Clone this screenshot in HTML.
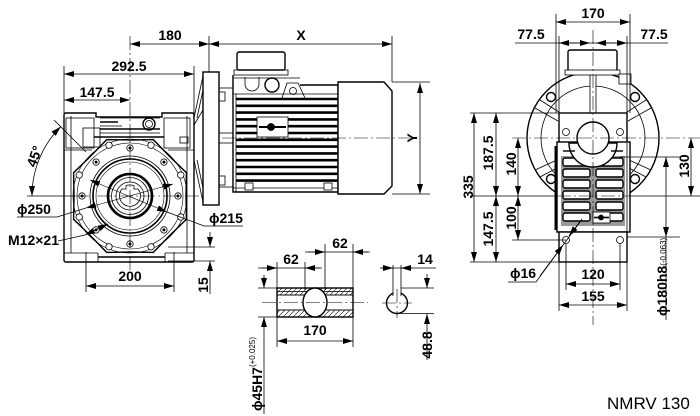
<!DOCTYPE html>
<html><head><meta charset="utf-8"><style>
html,body{margin:0;padding:0;background:#fff}
svg{display:block}
text{font-family:"Liberation Sans","DejaVu Sans",sans-serif;font-weight:bold;font-size:14px;fill:#000;stroke:none}
.c{stroke-dasharray:14 3 2 3;stroke-width:0.6}
.d{marker-start:url(#a);marker-end:url(#a)}
.e{marker-end:url(#a)}
.t{stroke-width:0.6}
.k{stroke-width:1.4}
</style></head><body>
<svg width="700" height="416" viewBox="0 0 700 416" xmlns="http://www.w3.org/2000/svg">
<defs>
<marker id="a" viewBox="0 0 10 6" refX="10" refY="3" markerWidth="10" markerHeight="6" markerUnits="userSpaceOnUse" orient="auto-start-reverse"><path d="M0,0L10,3L0,6z" fill="#000" stroke="none"/></marker>
<pattern id="h" width="5" height="5" patternUnits="userSpaceOnUse"><path d="M0,5L5,0" stroke="#000" stroke-width="0.6"/></pattern>
</defs>
<rect width="700" height="416" fill="#fff"/>
<g fill="none" stroke="#000" stroke-width="0.8">

<!-- ================= LEFT VIEW ================= -->
<path d="M66,113 H96 V117 H162 V113 H192 Q194,113 194,115 V260 Q194,262 192,262 H66 Q64,262 64,260 V115 Q64,113 66,113 Z" class="k"/>
<line x1="71" y1="116" x2="71" y2="253"/>
<line x1="187" y1="116" x2="187" y2="253"/>
<rect x="66" y="118" width="28" height="30"/>
<rect x="83" y="128" width="17" height="19"/>
<rect x="164" y="118" width="26" height="30"/>
<rect x="180" y="137" width="8" height="6"/>
<line x1="100" y1="118" x2="160" y2="118"/>
<line x1="100" y1="122" x2="118" y2="122" stroke-width="1.6"/>
<line x1="100" y1="126" x2="122" y2="126"/>
<line x1="100" y1="129" x2="160" y2="129" stroke-width="1.6"/>
<line x1="100" y1="133" x2="160" y2="133"/>
<line x1="94" y1="137" x2="164" y2="137" stroke-width="1.4"/>
<circle cx="149" cy="124" r="6" class="k"/>
<circle cx="149" cy="124" r="3.5"/>
<line x1="64" y1="150" x2="92" y2="150"/>
<line x1="168" y1="150" x2="194" y2="150"/>
<line x1="64" y1="253" x2="98" y2="253"/>
<line x1="98" y1="253" x2="98" y2="262"/>
<line x1="165" y1="253" x2="194" y2="253"/>
<line x1="165" y1="253" x2="165" y2="262"/>
<line x1="98" y1="257" x2="165" y2="257" stroke-width="1.4"/>

<!-- flange -->
<polygon fill="#fff" class="k" points="186,196 186.4,219.3 169.6,235.6 153.3,252.4 130,252 106.7,252.4 90.4,235.6 73.6,219.3 74,196 73.6,172.7 90.4,156.4 106.7,139.6 130,140 153.3,139.6 169.6,156.4 186.4,172.7"/>
<circle cx="130" cy="196" r="57" class="t"/>
<circle cx="130" cy="196" r="53" class="t"/>
<circle cx="130" cy="196" r="40"/>
<circle cx="130" cy="196" r="37" stroke-width="1.6"/>
<circle cx="130" cy="196" r="34" class="t"/>
<circle cx="130" cy="196" r="22" stroke-width="2.6"/>
<circle cx="130" cy="196" r="18.5"/>
<circle cx="130" cy="196" r="14"/>
<path d="M122,189 A10.5,10.5 0 1 0 138,189 L134,189 L134,185.7 A10.5,10.5 0 0 0 126,185.7 L126,189 Z"/>
<g fill="#fff">
<circle cx="178" cy="196" r="3.2"/><circle cx="163.9" cy="229.9" r="3.2"/><circle cx="130" cy="244" r="3.2"/><circle cx="96.1" cy="229.9" r="3.2"/>
<circle cx="82" cy="196" r="3.2"/><circle cx="96.1" cy="162.1" r="3.2"/><circle cx="130" cy="148" r="3.2"/><circle cx="163.9" cy="162.1" r="3.2"/>
<circle cx="180.8" cy="217" r="3.2"/><circle cx="151" cy="246.8" r="3.2"/><circle cx="109" cy="246.8" r="3.2"/><circle cx="79.2" cy="217" r="3.2"/>
<circle cx="79.2" cy="175" r="3.2"/><circle cx="109" cy="145.2" r="3.2"/><circle cx="151" cy="145.2" r="3.2"/><circle cx="180.8" cy="175" r="3.2"/>
</g>
<g fill="#000" stroke="none">
<circle cx="178" cy="196" r="1.5"/><circle cx="163.9" cy="229.9" r="1.5"/><circle cx="130" cy="244" r="1.5"/><circle cx="96.1" cy="229.9" r="1.5"/>
<circle cx="82" cy="196" r="1.5"/><circle cx="96.1" cy="162.1" r="1.5"/><circle cx="130" cy="148" r="1.5"/><circle cx="163.9" cy="162.1" r="1.5"/>
</g>
<line class="c" x1="130" y1="36" x2="130" y2="272"/>
<line class="c" x1="75" y1="196" x2="200" y2="196"/>
<line x1="27" y1="196" x2="75" y2="196"/>
<line class="d t" x1="86" y1="208" x2="173" y2="184"/>
<line class="d t" x1="90" y1="180" x2="167" y2="212"/>
<polyline points="17,217 57,217 86,208"/>
<polyline points="243,226 204,226 167,212"/>
<line x1="58" y1="241" x2="85" y2="235"/>
<line class="d" x1="85" y1="235" x2="108" y2="224"/>
<text x="17" y="214">ϕ250</text>
<text x="209" y="223">ϕ215</text>
<text x="8" y="245">M12×21</text>
<path class="d" d="M60.7,126.7 A98,98 0 0 0 32,196"/>
<line x1="54" y1="120" x2="86" y2="152"/>
<text transform="translate(39,158) rotate(-70)" text-anchor="middle">45°</text>
<line class="d" x1="130" y1="44" x2="209" y2="44"/>
<text x="170" y="40" text-anchor="middle">180</text>
<line class="d" x1="209" y1="44" x2="392" y2="44"/>
<text x="301" y="40" text-anchor="middle">X</text>
<line x1="209" y1="36" x2="209" y2="72"/>
<line x1="392" y1="36" x2="392" y2="82"/>
<line class="d" x1="64" y1="74" x2="194" y2="74"/>
<text x="129" y="71" text-anchor="middle">292.5</text>
<line class="d" x1="64" y1="100" x2="130" y2="100"/>
<text x="97" y="97" text-anchor="middle">147.5</text>
<line x1="64" y1="66" x2="64" y2="113"/>
<line x1="194" y1="66" x2="194" y2="113"/>
<line class="d" x1="86" y1="286" x2="174" y2="286"/>
<text x="130" y="281" text-anchor="middle">200</text>
<line x1="86" y1="252" x2="86" y2="292"/>
<line x1="174" y1="252" x2="174" y2="292"/>
<line class="e" x1="210" y1="232" x2="210" y2="247"/>
<line class="e" x1="210" y1="294" x2="210" y2="261"/>
<line x1="168" y1="247" x2="215" y2="247"/>
<line x1="168" y1="261" x2="215" y2="261"/>
<text transform="translate(208,285) rotate(-90)" text-anchor="middle">15</text>

<!-- ================= MOTOR SIDE ================= -->
<line x1="194" y1="118" x2="203" y2="76"/>
<line x1="197" y1="118" x2="206" y2="76"/>
<line x1="194" y1="160" x2="203" y2="202"/>
<line x1="197" y1="160" x2="206" y2="202"/>
<line x1="194" y1="125" x2="203" y2="110"/>
<rect x="203" y="72" width="16" height="133" fill="#fff" class="k"/>
<rect x="219" y="88" width="14" height="99"/>
<rect x="219" y="92" width="6" height="9"/>
<rect x="219" y="176" width="6" height="9"/>
<line x1="219" y1="133" x2="233" y2="133"/>
<line x1="219" y1="143" x2="233" y2="143"/>
<rect x="237" y="52" width="48" height="18" rx="2" class="k"/>
<rect x="234" y="70" width="54" height="5"/>
<path class="k" d="M233,75 L233,192 L338,192 L338,85 L300,85"/>
<line x1="233" y1="78" x2="300" y2="78"/>
<path d="M245,77 L245,84 A7,7 0 0 0 259,84 L259,77"/>
<circle cx="272" cy="85" r="7" class="k"/>
<path d="M282,98 L287,83 L298,83 L305,98"/>
<circle cx="293" cy="91" r="3.5"/>
<line x1="233" y1="94" x2="338" y2="94"/>
<line x1="236" y1="94" x2="236" y2="192"/>
<g stroke-width="2.6">
<line x1="236" y1="99" x2="338" y2="99"/><line x1="236" y1="105.8" x2="338" y2="105.8"/><line x1="236" y1="112.6" x2="338" y2="112.6"/>
<line x1="236" y1="119.4" x2="338" y2="119.4"/><line x1="236" y1="126.2" x2="338" y2="126.2"/><line x1="236" y1="133" x2="338" y2="133"/>
<line x1="236" y1="139.8" x2="338" y2="139.8"/><line x1="236" y1="146.6" x2="338" y2="146.6"/><line x1="236" y1="153.4" x2="338" y2="153.4"/>
<line x1="236" y1="160.2" x2="338" y2="160.2"/><line x1="236" y1="167" x2="338" y2="167"/><line x1="236" y1="173.8" x2="338" y2="173.8"/>
<line x1="236" y1="180.6" x2="338" y2="180.6"/>
</g>
<rect x="257" y="117" width="31" height="20" fill="#fff"/>
<line x1="259" y1="127" x2="286" y2="127" stroke-width="2"/>
<circle cx="271" cy="127" r="3.5" fill="#000"/>
<line x1="233" y1="188" x2="338" y2="188"/>
<rect x="245" y="183" width="8" height="7" fill="#fff"/>
<rect x="324" y="183" width="8" height="7" fill="#fff"/>
<path class="k" d="M338,82 L384,82 L392,91 L392,186 L384,194 L338,194 Z" fill="#fff"/>
<line class="c" x1="222" y1="138" x2="410" y2="138"/>
<line class="d" x1="420" y1="83" x2="420" y2="194"/>
<line x1="392" y1="82" x2="430" y2="82"/>
<line x1="392" y1="194" x2="430" y2="194"/>
<text transform="translate(417,138) rotate(-90)" text-anchor="middle">Y</text>

<!-- ================= SHAFT ================= -->
<rect x="277" y="288" width="76" height="7" fill="url(#h)"/>
<rect x="277" y="310" width="76" height="7" fill="url(#h)"/>
<rect x="277" y="288" width="76" height="29" class="k"/>
<line x1="277" y1="291.5" x2="353" y2="291.5"/>
<line x1="277" y1="295" x2="353" y2="295"/>
<line x1="277" y1="310" x2="353" y2="310"/>
<ellipse cx="315" cy="302.5" rx="12" ry="14.5" fill="#fff" class="k"/>
<line class="c" x1="262" y1="302.5" x2="368" y2="302.5"/>
<line x1="258" y1="268" x2="322" y2="268"/>
<line class="e" x1="262" y1="268" x2="277" y2="268"/>
<line class="e" x1="320" y1="268" x2="305" y2="268"/>
<text x="291" y="264" text-anchor="middle">62</text>
<line x1="305" y1="252" x2="370" y2="252"/>
<line class="e" x1="308" y1="252" x2="325" y2="252"/>
<line class="e" x1="368" y1="252" x2="353" y2="252"/>
<text x="340" y="248" text-anchor="middle">62</text>
<line x1="277" y1="262" x2="277" y2="347"/>
<line x1="353" y1="244" x2="353" y2="347"/>
<line x1="305" y1="262" x2="305" y2="290"/>
<line x1="325" y1="244" x2="325" y2="290"/>
<line class="d" x1="277" y1="341" x2="353" y2="341"/>
<text x="315" y="335" text-anchor="middle">170</text>
<line class="e" x1="264" y1="275" x2="264" y2="288"/>
<line class="e" x1="264" y1="414" x2="264" y2="317"/>
<line x1="258" y1="288" x2="277" y2="288"/>
<line x1="258" y1="317" x2="277" y2="317"/>
<text transform="translate(262,411) rotate(-90)">ϕ45H7<tspan font-size="8" font-weight="normal" dy="-7">(+0.025)</tspan></text>
<circle cx="397" cy="303" r="10.5" class="k"/>
<rect x="393.5" y="290" width="7" height="5" fill="#fff" stroke="none"/>
<line x1="393" y1="265" x2="393" y2="296"/>
<line x1="401" y1="265" x2="401" y2="296"/>
<line class="c" x1="382" y1="303" x2="412" y2="303"/>
<line class="c" x1="397" y1="289" x2="397" y2="318"/>
<line x1="380" y1="268" x2="436" y2="268"/>
<line class="e" x1="381" y1="268" x2="393" y2="268"/>
<line class="e" x1="413" y1="268" x2="401" y2="268"/>
<text x="425" y="264" text-anchor="middle">14</text>
<line class="e" x1="427" y1="274" x2="427" y2="288"/>
<line class="e" x1="427" y1="360" x2="427" y2="314"/>
<line x1="401" y1="288" x2="434" y2="288"/>
<line x1="397" y1="313.5" x2="434" y2="313.5"/>
<text transform="translate(432,345) rotate(-90)" text-anchor="middle">48.8</text>

<!-- ================= RIGHT VIEW ================= -->
<circle cx="593" cy="138" r="66" class="k"/>
<circle cx="593" cy="138" r="52"/>
<circle cx="551" cy="97" r="4.5" fill="#fff" class="k"/>
<circle cx="635" cy="97" r="4.5" fill="#fff" class="k"/>
<circle cx="551" cy="179" r="4.5" fill="#fff" class="k"/>
<circle cx="635" cy="179" r="4.5" fill="#fff" class="k"/>
<line x1="535" y1="108" x2="558" y2="121"/><line x1="540" y1="100" x2="559" y2="112"/>
<line x1="651" y1="108" x2="628" y2="121"/><line x1="646" y1="100" x2="627" y2="112"/>
<line x1="535" y1="170" x2="557" y2="160"/><line x1="540" y1="177" x2="557" y2="168"/>
<line x1="651" y1="170" x2="629" y2="160"/><line x1="646" y1="177" x2="629" y2="168"/>
<rect x="590" y="72" width="6" height="41" fill="#fff"/>
<rect x="568" y="50" width="49" height="21" rx="2" class="k"/>
<rect x="565" y="70" width="55" height="5" fill="#fff"/>
<rect x="619" y="74" width="12" height="10" fill="#fff"/>
<rect x="559" y="113" width="68" height="30" fill="#fff" class="k"/>
<rect x="557" y="142" width="73" height="90" fill="#fff" class="k"/>
<rect x="554.5" y="146" width="3" height="84" fill="#000" stroke="none"/>
<rect x="561" y="156" width="64" height="70" fill="#9a9a9a" stroke="none"/>
<line x1="627" y1="143" x2="627" y2="232"/>
<g stroke-width="1.4" fill="#fff">
<rect x="563" y="158" width="27" height="8" rx="2"/><rect x="596" y="158" width="27" height="8" rx="2"/>
<rect x="563" y="169" width="27" height="8" rx="2"/><rect x="596" y="169" width="27" height="8" rx="2"/>
<rect x="563" y="180" width="27" height="8" rx="2"/><rect x="596" y="180" width="27" height="8" rx="2"/>
<rect x="563" y="191" width="27" height="8" rx="2"/><rect x="596" y="191" width="27" height="8" rx="2"/>
<rect x="563" y="202" width="27" height="8" rx="2"/><rect x="596" y="202" width="27" height="8" rx="2"/>
<rect x="563" y="213" width="27" height="8" rx="2"/><rect x="596" y="213" width="27" height="8" rx="2"/>
</g>
<path d="M569,143 A24,24 0 0 0 617,143 Z" fill="#fff" class="k"/>
<circle cx="593" cy="138" r="16" fill="#fff" class="k"/>
<line x1="563" y1="151" x2="575" y2="151" stroke-width="1.4"/>
<line x1="611" y1="151" x2="623" y2="151" stroke-width="1.4"/>
<circle cx="566" cy="132" r="3.5"/>
<circle cx="620" cy="132" r="3.5"/>
<rect x="593" y="212" width="17" height="11" fill="#fff"/>
<line x1="594" y1="217.5" x2="609" y2="217.5" stroke-width="1.6"/>
<circle cx="601" cy="217.5" r="2.5" fill="#000"/>
<rect x="559" y="232" width="68" height="30" fill="#fff" class="k"/>
<circle cx="566" cy="240" r="3.5"/>
<circle cx="620" cy="240" r="3.5"/>
<line class="c" x1="593" y1="30" x2="593" y2="325"/>
<line class="c" x1="512" y1="138" x2="700" y2="138"/>
<line class="d" x1="556" y1="22" x2="630" y2="22"/>
<text x="593" y="18" text-anchor="middle">170</text>
<line x1="556" y1="14" x2="556" y2="113"/>
<line x1="630" y1="14" x2="630" y2="113"/>
<line x1="559" y1="36" x2="559" y2="113"/>
<line x1="627" y1="36" x2="627" y2="113"/>
<line x1="515" y1="43" x2="668" y2="43"/>
<line class="d" x1="559" y1="43" x2="590" y2="43"/>
<line class="d" x1="596" y1="43" x2="627" y2="43"/>
<text x="531" y="39" text-anchor="middle">77.5</text>
<text x="654" y="39" text-anchor="middle">77.5</text>
<line x1="470" y1="113" x2="559" y2="113"/>
<line x1="470" y1="196" x2="557" y2="196"/>
<line class="c" x1="557" y1="196" x2="630" y2="196"/>
<line x1="630" y1="196" x2="700" y2="196"/>
<line x1="470" y1="262" x2="559" y2="262"/>
<line x1="512" y1="240" x2="566" y2="240"/>
<line class="d" x1="474" y1="113" x2="474" y2="262"/>
<text transform="translate(473,187) rotate(-90)" text-anchor="middle">335</text>
<line class="d" x1="496" y1="113" x2="496" y2="196"/>
<line class="d" x1="496" y1="196" x2="496" y2="262"/>
<text transform="translate(493,153) rotate(-90)" text-anchor="middle">187.5</text>
<text transform="translate(493,229) rotate(-90)" text-anchor="middle">147.5</text>
<line class="d" x1="518" y1="138" x2="518" y2="196"/>
<line class="d" x1="518" y1="196" x2="518" y2="240"/>
<text transform="translate(516,164) rotate(-90)" text-anchor="middle">140</text>
<text transform="translate(516,218) rotate(-90)" text-anchor="middle">100</text>
<line class="d" x1="691" y1="138" x2="691" y2="196"/>
<text transform="translate(689,166) rotate(-90)" text-anchor="middle">130</text>
<line x1="620" y1="157" x2="680" y2="157"/>
<line x1="627" y1="237" x2="680" y2="237"/>
<line class="d" x1="666" y1="157" x2="666" y2="237"/>
<line x1="666" y1="237" x2="666" y2="320"/>
<text transform="translate(667,316) rotate(-90)">ϕ180h8<tspan font-size="8" font-weight="normal" dy="-1">(-0.063)</tspan></text>
<text x="510" y="278">ϕ16</text>
<polyline points="508,282 536,282 580,222"/>
<line class="e" x1="540" y1="276" x2="563" y2="245"/>
<line class="e" x1="582" y1="219" x2="569" y2="236"/>
<line class="d" x1="566" y1="284" x2="620" y2="284"/>
<text x="593" y="279" text-anchor="middle">120</text>
<line class="d" x1="559" y1="305" x2="627" y2="305"/>
<text x="593" y="301" text-anchor="middle">155</text>
<line x1="559" y1="262" x2="559" y2="311"/>
<line x1="627" y1="262" x2="627" y2="311"/>
<line x1="566" y1="244" x2="566" y2="290"/>
<line x1="620" y1="244" x2="620" y2="290"/>
</g>
<text x="607" y="409" style="font-weight:normal;font-size:17px">NMRV 130</text>
</svg>
</body></html>
